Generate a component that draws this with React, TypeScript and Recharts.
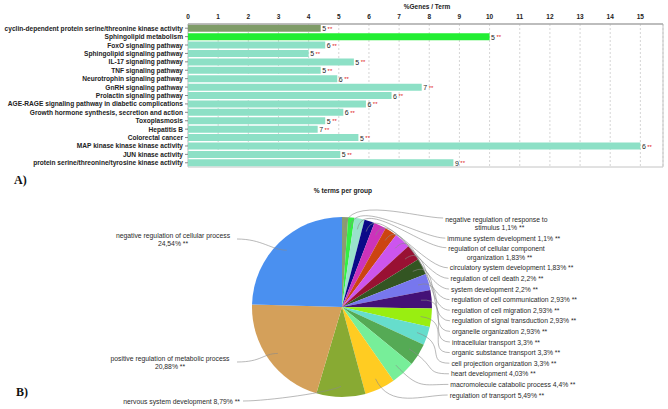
import {
  BarChart,
  Bar,
  XAxis,
  YAxis,
  CartesianGrid,
  Cell,
  LabelList,
  ReferenceArea,
  PieChart,
  Pie,
} from "recharts";

// A) enriched terms
const terms = [
  "cyclin-dependent protein serine/threonine kinase activity",
  "Sphingolipid metabolism",
  "FoxO signaling pathway",
  "Sphingolipid signaling pathway",
  "IL-17 signaling pathway",
  "TNF signaling pathway",
  "Neurotrophin signaling pathway",
  "GnRH signaling pathway",
  "Prolactin signaling pathway",
  "AGE-RAGE signaling pathway in diabetic complications",
  "Growth hormone synthesis, secretion and action",
  "Toxoplasmosis",
  "Hepatitis B",
  "Colorectal cancer",
  "MAP kinase kinase kinase activity",
  "JUN kinase activity",
  "protein serine/threonine/tyrosine kinase activity",
];
const pctGenes = [4.4, 10.0, 4.55, 4.0, 5.5, 4.4, 4.95, 7.75, 6.75, 5.9, 5.15, 4.55, 4.3, 5.65, 15.0, 5.05, 8.8];
const geneCounts = [5, 5, 6, 5, 5, 5, 6, 7, 6, 6, 6, 5, 7, 5, 6, 5, 9];
const pctTicks = [0, 1, 2, 3, 4, 5, 6, 7, 8, 9, 10, 11, 12, 13, 14, 15];

// B) groups
const groups = [
  "negative regulation of response to stimulus",
  "immune system development",
  "regulation of cellular component organization",
  "circulatory system development",
  "regulation of cell death",
  "system development",
  "regulation of cell communication",
  "regulation of cell migration",
  "regulation of signal transduction",
  "organelle organization",
  "intracellular transport",
  "organic substance transport",
  "cell projection organization",
  "heart development",
  "macromolecule catabolic process",
  "regulation of transport",
  "nervous system development",
  "positive regulation of metabolic process",
  "negative regulation of cellular process",
];
const groupPct = [1.1, 1.1, 1.83, 1.83, 2.2, 2.2, 2.93, 2.93, 2.93, 2.93, 3.3, 3.3, 3.3, 4.03, 4.4, 5.49, 8.79, 20.88, 24.54];

const pieColors = [
  "#8c9c70", "#33ee44", "#99e2cc", "#0a0a88", "#cc33bb", "#cc4411", "#cc55ee",
  "#991133", "#335522", "#7777ee", "#441177", "#99ee11", "#66ddcc", "#55aa55",
  "#77ee99", "#ffcc22", "#88aa33", "#d4a05a", "#4a90f0",
];

const barData = terms.map((term, i) => ({ term, pct: pctGenes[i], genes: geneCounts[i] }));
const pieData = groups.map((name, i) => ({ name, pct: groupPct[i] }));

const SANS = "'Liberation Sans', Arial, sans-serif";
const RAD = Math.PI / 180;
const PIE_TOP = 185;

const barFill = (i: number) => (i === 0 ? "#7f9c68" : i === 1 ? "#22ee33" : "#8de0c6");
const pctText = (v: number) => `${String(v).replace(".", ",")}% **`;

const TermTick = (props: any) => {
  const { x, y, payload } = props;
  return (
    <text x={x} y={y} dominantBaseline="central" textAnchor="end" fontSize={6.6} fontWeight="bold" fontFamily={SANS} fill="#222">
      {payload.value}
    </text>
  );
};

const BarValue = (props: any) => {
  const { x, y, width, height, value } = props;
  return (
    <text x={x + width + 1.5} y={y + height / 2 + 0.5} dominantBaseline="central" fontSize={7} fontFamily={SANS} fill="#222">
      {value}
      <tspan dx={1.5} fill="#e02020" fontSize={6}>**</tspan>
    </text>
  );
};

// right-hand label column, stacked from the top
const rightSlots = (() => {
  const slots: { x: number; y: number; two: boolean }[] = [];
  let y = 219 - PIE_TOP;
  for (let i = 0; i < 16; i++) {
    const two = groups[i].length > 40;
    const absY = y + PIE_TOP;
    slots.push({ x: 452 - ((absY - 330) * (absY - 330)) / 1800, y, two });
    y += two ? 8.5 + 10.6 : 10.6;
  }
  return slots;
})();

const renderPieLabel = (props: any) => {
  const { cx, cy, midAngle, outerRadius, index } = props;
  const r0 = outerRadius * 0.88;
  const cos = Math.cos(-midAngle * RAD);
  const sin = Math.sin(-midAngle * RAD);
  const sx = cx + r0 * cos;
  const sy = cy + r0 * sin;
  const c1x = cx + outerRadius * 1.25 * cos;
  const c1y = cy + outerRadius * 1.25 * sin;
  const name = groups[index];
  const label = pctText(groupPct[index]);
  const txt = { fontSize: 6.8, fontFamily: SANS, fill: "#2a2a2a" };
  const line = (ex: number, ey: number, dir: number, c1: [number, number]) => (
    <path
      d={`M${sx},${sy} C${c1[0]},${c1[1]} ${ex + dir * 25},${ey} ${ex},${ey}`}
      fill="none"
      stroke="#8a8a8a"
      strokeWidth={0.6}
    />
  );

  if (index < 16) {
    const s = rightSlots[index];
    if (s.two) {
      const words = name.split(" ");
      const first = words.slice(0, -1).join(" ");
      const second = `${words[words.length - 1]} ${label}`;
      const mid = s.x + (first.length * 3.2) / 2;
      return (
        <g>
          {line(s.x - 2, s.y - 1, -1, [c1x, c1y])}
          <text x={s.x} y={s.y} dominantBaseline="central" {...txt}>{first}</text>
          <text x={mid} y={s.y + 8.5} dominantBaseline="central" textAnchor="middle" {...txt}>{second}</text>
        </g>
      );
    }
    return (
      <g>
        {line(s.x - 2, s.y, -1, [c1x, c1y])}
        <text x={s.x} y={s.y} dominantBaseline="central" {...txt}>{`${name} ${label}`}</text>
      </g>
    );
  }

  if (index === 16) {
    const ex = cx - 99;
    const ey = cy + 94;
    return (
      <g>
        {line(ex, ey, 1, [sx - 10, sy + 6])}
        <text x={ex - 3} y={ey} dominantBaseline="central" textAnchor="end" {...txt}>{`${name} ${label}`}</text>
      </g>
    );
  }

  // two big slices on the left: name over value, centred
  const up = index === 18;
  const ex = cx - 105;
  const ey = up ? cy - 68 : cy + 55;
  const tx = up ? cx - 169 : cx - 172;
  return (
    <g>
      {line(ex, ey, 1, [sx - 15, sy])}
      <text x={tx} y={ey - 4} dominantBaseline="central" textAnchor="middle" {...txt}>{name}</text>
      <text x={tx} y={ey + 4.5} dominantBaseline="central" textAnchor="middle" {...txt}>{label}</text>
    </g>
  );
};

export default function App() {
  return (
    <div style={{ position: "relative", width: 668, height: 409, background: "#fff", overflow: "hidden" }}>
      <style>{`body{margin:0}`}</style>

      <div
        style={{
          position: "absolute",
          left: 427,
          top: 3,
          transform: "translateX(-50%)",
          fontFamily: SANS,
          fontWeight: "bold",
          fontSize: 6.5,
          color: "#222",
          whiteSpace: "nowrap",
        }}
      >
        %Genes / Term
      </div>

      <div style={{ position: "absolute", left: 0, top: 0 }}>
        <BarChart
          width={668}
          height={170}
          layout="vertical"
          data={barData}
          margin={{ top: 0, right: 5, bottom: 3, left: 0 }}
          barCategoryGap="9%"
        >
          <CartesianGrid horizontal={false} strokeDasharray="2 2" stroke="#b8b8b8" strokeWidth={0.6} />
          <ReferenceArea x1={0} x2={15.75} fill="none" stroke="#c4c4c4" strokeWidth={1} ifOverflow="extendDomain" />
          <XAxis
            type="number"
            orientation="top"
            height={24}
            domain={[0, 15.75]}
            ticks={pctTicks}
            axisLine={{ stroke: "#999" }}
            tickLine={false}
            tickSize={3}
            tickMargin={2}
            tick={{ fontSize: 6.5, fontWeight: "bold", fontFamily: SANS, fill: "#222" }}
          />
          <YAxis
            type="category"
            dataKey="term"
            width={188}
            interval={0}
            axisLine={false}
            tickSize={3}
            tickMargin={2}
            tickLine={{ stroke: "#888" }}
            tick={<TermTick />}
          />
          <Bar dataKey="pct" isAnimationActive={false}>
            {barData.map((_, i) => (
              <Cell key={i} fill={barFill(i)} />
            ))}
            <LabelList dataKey="genes" content={BarValue} />
          </Bar>
        </BarChart>
      </div>

      <div
        style={{
          position: "absolute",
          left: 14,
          top: 173,
          fontFamily: "'Liberation Serif', 'Times New Roman', serif",
          fontWeight: "bold",
          fontSize: 12,
          color: "#111",
        }}
      >
        A)
      </div>
      <div
        style={{
          position: "absolute",
          left: 16,
          top: 385,
          fontFamily: "'Liberation Serif', 'Times New Roman', serif",
          fontWeight: "bold",
          fontSize: 12,
          color: "#111",
        }}
      >
        B)
      </div>
      <div
        style={{
          position: "absolute",
          left: 343,
          top: 187,
          transform: "translateX(-50%)",
          fontFamily: SANS,
          fontWeight: "bold",
          fontSize: 6.6,
          color: "#222",
          whiteSpace: "nowrap",
        }}
      >
        % terms per group
      </div>

      <div style={{ position: "absolute", left: 0, top: PIE_TOP }}>
        <PieChart width={668} height={224} margin={{ top: 0, right: 0, bottom: 0, left: 0 }}>
          <Pie
            data={pieData}
            dataKey="pct"
            nameKey="name"
            cx={342}
            cy={122}
            outerRadius={90}
            startAngle={90}
            endAngle={-270}
            stroke="none"
            labelLine={false}
            label={renderPieLabel}
            isAnimationActive={false}
          >
            {pieData.map((_, i) => (
              <Cell key={i} fill={pieColors[i]} />
            ))}
          </Pie>
        </PieChart>
      </div>
    </div>
  );
}
